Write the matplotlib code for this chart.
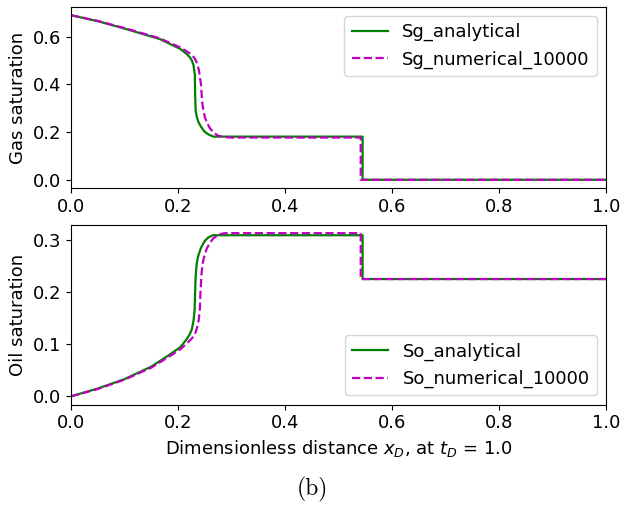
import numpy as np
import matplotlib
matplotlib.use('Agg')
import matplotlib.pyplot as plt

# Gas saturation, analytical
sg_an_x = [0.0, 0.05, 0.10, 0.166, 0.204, 0.215, 0.222, 0.226, 0.229, 0.2315, 0.232, 0.233, 0.235,
           0.238, 0.243, 0.250, 0.257, 0.266, 0.545, 0.545, 1.0]
sg_an_y = [0.690, 0.665, 0.634, 0.590, 0.549, 0.530, 0.514, 0.500, 0.480, 0.440, 0.360, 0.290, 0.265,
           0.243, 0.222, 0.201, 0.190, 0.181, 0.181, 0.0, 0.0]

# Gas saturation, numerical (10000 cells)
sg_num_x = [0.0, 0.05, 0.10, 0.166, 0.204, 0.215, 0.225, 0.232, 0.236, 0.239, 0.241, 0.243, 0.244,
            0.245, 0.247, 0.250, 0.254, 0.260, 0.267, 0.275, 0.285, 0.300, 0.5415, 0.5415, 1.0]
sg_num_y = [0.690, 0.666, 0.636, 0.593, 0.555, 0.540, 0.526, 0.506, 0.486, 0.460, 0.430, 0.400, 0.365,
            0.330, 0.298, 0.264, 0.240, 0.215, 0.197, 0.185, 0.179, 0.177, 0.177, 0.0, 0.0]

# Oil saturation, analytical
so_an_x = [0.0, 0.05, 0.10, 0.15, 0.18, 0.204, 0.215, 0.222, 0.226, 0.229, 0.231, 0.232, 0.233,
           0.235, 0.238, 0.243, 0.250, 0.257, 0.265, 0.545, 0.545, 1.0]
so_an_y = [0.0, 0.015, 0.033, 0.057, 0.077, 0.094, 0.108, 0.119, 0.129, 0.145, 0.165, 0.200, 0.230,
           0.255, 0.270, 0.285, 0.298, 0.305, 0.309, 0.309, 0.225, 0.225]

# Oil saturation, numerical (10000 cells)
so_num_x = [0.0, 0.05, 0.10, 0.15, 0.18, 0.204, 0.215, 0.225, 0.232, 0.236, 0.239, 0.241, 0.242,
            0.244, 0.246, 0.250, 0.254, 0.260, 0.266, 0.274, 0.282, 0.290, 0.5415, 0.5415, 1.0]
so_num_y = [0.0, 0.014, 0.032, 0.055, 0.074, 0.090, 0.100, 0.110, 0.120, 0.133, 0.148, 0.170, 0.200,
            0.235, 0.255, 0.272, 0.284, 0.295, 0.303, 0.309, 0.312, 0.313, 0.313, 0.225, 0.225]

FS = 13

fig = plt.figure(figsize=(6.25, 5.13), dpi=100)
ax1 = fig.add_axes([0.1136, 0.6335, 0.856, 0.3529])
ax2 = fig.add_axes([0.1136, 0.2115, 0.856, 0.3499])

ax1.plot(sg_an_x, sg_an_y, '-', color='g', lw=1.6, label='Sg_analytical')
ax1.plot(sg_num_x, sg_num_y, '--', color='m', lw=1.6, label='Sg_numerical_10000')
ax1.set_xlim(0, 1)
ax1.set_ylabel('Gas saturation', fontsize=FS)
ax1.legend(loc='upper right', fontsize=FS)

ax2.plot(so_an_x, so_an_y, '-', color='g', lw=1.6, label='So_analytical')
ax2.plot(so_num_x, so_num_y, '--', color='m', lw=1.6, label='So_numerical_10000')
ax2.set_xlim(0, 1)
ax2.set_ylabel('Oil saturation', fontsize=FS)
ax2.set_xlabel(r'Dimensionless distance $x_D$, at $t_D$ = 1.0', fontsize=FS)
ax2.legend(loc='lower right', fontsize=FS)

for ax in (ax1, ax2):
    ax.tick_params(labelsize=FS)

fig.text(0.5, 0.045, '(b)', ha='center', va='center', fontsize=17, family='cmr10')

fig.savefig('out.png')
